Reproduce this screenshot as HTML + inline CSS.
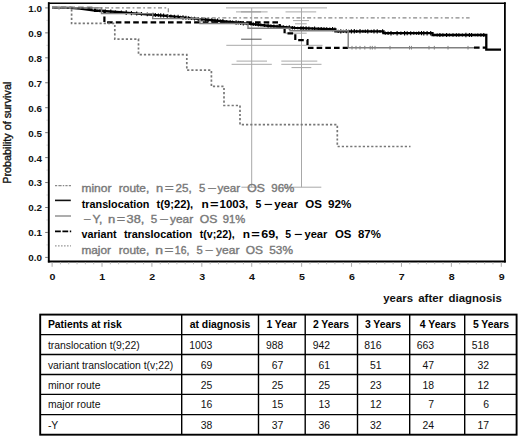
<!DOCTYPE html>
<html><head><meta charset="utf-8"><style>
html,body{margin:0;padding:0;background:#fff;width:520px;height:438px;overflow:hidden}
svg{display:block}
text{font-family:"Liberation Sans", sans-serif}
.ax{font-size:9.5px;font-weight:bold;fill:#111}
.xt{font-size:10.6px;font-weight:bold;fill:#111}
.yt{font-size:10.8px;fill:#111;stroke:#111;stroke-width:0.35px}
.lg{font-size:10.6px}
.lg.g{fill:#787878;stroke:#787878;stroke-width:0.35px}
.lg.b{fill:#000;font-weight:bold}
.th{font-size:10px;font-weight:bold;fill:#000}
.td{font-size:10px;fill:#111}
</style></head><body>
<svg width="520" height="438" viewBox="0 0 520 438">
<g stroke="#000" stroke-linecap="square">
<line x1="48.8" y1="3.2" x2="504.9" y2="3.2" stroke-width="1.6"/>
<line x1="504.9" y1="3.2" x2="504.9" y2="261.5" stroke-width="1.8"/>
<line x1="48.8" y1="261.5" x2="504.9" y2="261.5" stroke-width="1.8"/>
<line x1="48.8" y1="3.2" x2="48.8" y2="261.5" stroke-width="1.9"/>
</g>
<line x1="45.2" y1="257.40" x2="48" y2="257.40" stroke="#777" stroke-width="1"/>
<text transform="translate(42.0,261.30) scale(1.04,1)" text-anchor="end" class="ax">0.0</text>
<line x1="45.2" y1="232.45" x2="48" y2="232.45" stroke="#777" stroke-width="1"/>
<text transform="translate(42.0,236.35) scale(1.04,1)" text-anchor="end" class="ax">0.1</text>
<line x1="45.2" y1="207.50" x2="48" y2="207.50" stroke="#777" stroke-width="1"/>
<text transform="translate(42.0,211.40) scale(1.04,1)" text-anchor="end" class="ax">0.2</text>
<line x1="45.2" y1="182.55" x2="48" y2="182.55" stroke="#777" stroke-width="1"/>
<text transform="translate(42.0,186.45) scale(1.04,1)" text-anchor="end" class="ax">0.3</text>
<line x1="45.2" y1="157.60" x2="48" y2="157.60" stroke="#777" stroke-width="1"/>
<text transform="translate(42.0,161.50) scale(1.04,1)" text-anchor="end" class="ax">0.4</text>
<line x1="45.2" y1="132.65" x2="48" y2="132.65" stroke="#777" stroke-width="1"/>
<text transform="translate(42.0,136.55) scale(1.04,1)" text-anchor="end" class="ax">0.5</text>
<line x1="45.2" y1="107.70" x2="48" y2="107.70" stroke="#777" stroke-width="1"/>
<text transform="translate(42.0,111.60) scale(1.04,1)" text-anchor="end" class="ax">0.6</text>
<line x1="45.2" y1="82.75" x2="48" y2="82.75" stroke="#777" stroke-width="1"/>
<text transform="translate(42.0,86.65) scale(1.04,1)" text-anchor="end" class="ax">0.7</text>
<line x1="45.2" y1="57.80" x2="48" y2="57.80" stroke="#777" stroke-width="1"/>
<text transform="translate(42.0,61.70) scale(1.04,1)" text-anchor="end" class="ax">0.8</text>
<line x1="45.2" y1="32.85" x2="48" y2="32.85" stroke="#777" stroke-width="1"/>
<text transform="translate(42.0,36.75) scale(1.04,1)" text-anchor="end" class="ax">0.9</text>
<line x1="45.2" y1="7.90" x2="48" y2="7.90" stroke="#777" stroke-width="1"/>
<text transform="translate(42.0,11.80) scale(1.04,1)" text-anchor="end" class="ax">1.0</text>
<line x1="46.6" y1="244.92" x2="48" y2="244.92" stroke="#bbb" stroke-width="1"/>
<line x1="46.6" y1="219.97" x2="48" y2="219.97" stroke="#bbb" stroke-width="1"/>
<line x1="46.6" y1="195.03" x2="48" y2="195.03" stroke="#bbb" stroke-width="1"/>
<line x1="46.6" y1="170.08" x2="48" y2="170.08" stroke="#bbb" stroke-width="1"/>
<line x1="46.6" y1="145.13" x2="48" y2="145.13" stroke="#bbb" stroke-width="1"/>
<line x1="46.6" y1="120.17" x2="48" y2="120.17" stroke="#bbb" stroke-width="1"/>
<line x1="46.6" y1="95.22" x2="48" y2="95.22" stroke="#bbb" stroke-width="1"/>
<line x1="46.6" y1="70.28" x2="48" y2="70.28" stroke="#bbb" stroke-width="1"/>
<line x1="46.6" y1="45.32" x2="48" y2="45.32" stroke="#bbb" stroke-width="1"/>
<line x1="46.6" y1="20.37" x2="48" y2="20.37" stroke="#bbb" stroke-width="1"/>
<line x1="52.10" y1="262.4" x2="52.10" y2="266.8" stroke="#aaa" stroke-width="1"/>
<text transform="translate(52.40,279.6) scale(1.12,1)" text-anchor="middle" class="ax">0</text>
<line x1="102.01" y1="262.4" x2="102.01" y2="266.8" stroke="#aaa" stroke-width="1"/>
<text transform="translate(102.31,279.6) scale(1.12,1)" text-anchor="middle" class="ax">1</text>
<line x1="151.92" y1="262.4" x2="151.92" y2="266.8" stroke="#aaa" stroke-width="1"/>
<text transform="translate(152.22,279.6) scale(1.12,1)" text-anchor="middle" class="ax">2</text>
<line x1="201.83" y1="262.4" x2="201.83" y2="266.8" stroke="#aaa" stroke-width="1"/>
<text transform="translate(202.13,279.6) scale(1.12,1)" text-anchor="middle" class="ax">3</text>
<line x1="251.74" y1="262.4" x2="251.74" y2="266.8" stroke="#aaa" stroke-width="1"/>
<text transform="translate(252.04,279.6) scale(1.12,1)" text-anchor="middle" class="ax">4</text>
<line x1="301.65" y1="262.4" x2="301.65" y2="266.8" stroke="#aaa" stroke-width="1"/>
<text transform="translate(301.95,279.6) scale(1.12,1)" text-anchor="middle" class="ax">5</text>
<line x1="351.56" y1="262.4" x2="351.56" y2="266.8" stroke="#aaa" stroke-width="1"/>
<text transform="translate(351.86,279.6) scale(1.12,1)" text-anchor="middle" class="ax">6</text>
<line x1="401.47" y1="262.4" x2="401.47" y2="266.8" stroke="#aaa" stroke-width="1"/>
<text transform="translate(401.77,279.6) scale(1.12,1)" text-anchor="middle" class="ax">7</text>
<line x1="451.38" y1="262.4" x2="451.38" y2="266.8" stroke="#aaa" stroke-width="1"/>
<text transform="translate(451.68,279.6) scale(1.12,1)" text-anchor="middle" class="ax">8</text>
<line x1="501.29" y1="262.4" x2="501.29" y2="266.8" stroke="#aaa" stroke-width="1"/>
<text transform="translate(501.59,279.6) scale(1.12,1)" text-anchor="middle" class="ax">9</text>
<line x1="60.42" y1="262.4" x2="60.42" y2="264.3" stroke="#bbb" stroke-width="1"/>
<line x1="68.74" y1="262.4" x2="68.74" y2="264.3" stroke="#bbb" stroke-width="1"/>
<line x1="77.06" y1="262.4" x2="77.06" y2="264.3" stroke="#bbb" stroke-width="1"/>
<line x1="85.37" y1="262.4" x2="85.37" y2="264.3" stroke="#bbb" stroke-width="1"/>
<line x1="93.69" y1="262.4" x2="93.69" y2="264.3" stroke="#bbb" stroke-width="1"/>
<line x1="110.33" y1="262.4" x2="110.33" y2="264.3" stroke="#bbb" stroke-width="1"/>
<line x1="118.65" y1="262.4" x2="118.65" y2="264.3" stroke="#bbb" stroke-width="1"/>
<line x1="126.97" y1="262.4" x2="126.97" y2="264.3" stroke="#bbb" stroke-width="1"/>
<line x1="135.28" y1="262.4" x2="135.28" y2="264.3" stroke="#bbb" stroke-width="1"/>
<line x1="143.60" y1="262.4" x2="143.60" y2="264.3" stroke="#bbb" stroke-width="1"/>
<line x1="160.24" y1="262.4" x2="160.24" y2="264.3" stroke="#bbb" stroke-width="1"/>
<line x1="168.56" y1="262.4" x2="168.56" y2="264.3" stroke="#bbb" stroke-width="1"/>
<line x1="176.88" y1="262.4" x2="176.88" y2="264.3" stroke="#bbb" stroke-width="1"/>
<line x1="185.19" y1="262.4" x2="185.19" y2="264.3" stroke="#bbb" stroke-width="1"/>
<line x1="193.51" y1="262.4" x2="193.51" y2="264.3" stroke="#bbb" stroke-width="1"/>
<line x1="210.15" y1="262.4" x2="210.15" y2="264.3" stroke="#bbb" stroke-width="1"/>
<line x1="218.47" y1="262.4" x2="218.47" y2="264.3" stroke="#bbb" stroke-width="1"/>
<line x1="226.78" y1="262.4" x2="226.78" y2="264.3" stroke="#bbb" stroke-width="1"/>
<line x1="235.10" y1="262.4" x2="235.10" y2="264.3" stroke="#bbb" stroke-width="1"/>
<line x1="243.42" y1="262.4" x2="243.42" y2="264.3" stroke="#bbb" stroke-width="1"/>
<line x1="260.06" y1="262.4" x2="260.06" y2="264.3" stroke="#bbb" stroke-width="1"/>
<line x1="268.38" y1="262.4" x2="268.38" y2="264.3" stroke="#bbb" stroke-width="1"/>
<line x1="276.69" y1="262.4" x2="276.69" y2="264.3" stroke="#bbb" stroke-width="1"/>
<line x1="285.01" y1="262.4" x2="285.01" y2="264.3" stroke="#bbb" stroke-width="1"/>
<line x1="293.33" y1="262.4" x2="293.33" y2="264.3" stroke="#bbb" stroke-width="1"/>
<line x1="309.97" y1="262.4" x2="309.97" y2="264.3" stroke="#bbb" stroke-width="1"/>
<line x1="318.29" y1="262.4" x2="318.29" y2="264.3" stroke="#bbb" stroke-width="1"/>
<line x1="326.61" y1="262.4" x2="326.61" y2="264.3" stroke="#bbb" stroke-width="1"/>
<line x1="334.92" y1="262.4" x2="334.92" y2="264.3" stroke="#bbb" stroke-width="1"/>
<line x1="343.24" y1="262.4" x2="343.24" y2="264.3" stroke="#bbb" stroke-width="1"/>
<line x1="359.88" y1="262.4" x2="359.88" y2="264.3" stroke="#bbb" stroke-width="1"/>
<line x1="368.20" y1="262.4" x2="368.20" y2="264.3" stroke="#bbb" stroke-width="1"/>
<line x1="376.51" y1="262.4" x2="376.51" y2="264.3" stroke="#bbb" stroke-width="1"/>
<line x1="384.83" y1="262.4" x2="384.83" y2="264.3" stroke="#bbb" stroke-width="1"/>
<line x1="393.15" y1="262.4" x2="393.15" y2="264.3" stroke="#bbb" stroke-width="1"/>
<line x1="409.79" y1="262.4" x2="409.79" y2="264.3" stroke="#bbb" stroke-width="1"/>
<line x1="418.11" y1="262.4" x2="418.11" y2="264.3" stroke="#bbb" stroke-width="1"/>
<line x1="426.43" y1="262.4" x2="426.43" y2="264.3" stroke="#bbb" stroke-width="1"/>
<line x1="434.74" y1="262.4" x2="434.74" y2="264.3" stroke="#bbb" stroke-width="1"/>
<line x1="443.06" y1="262.4" x2="443.06" y2="264.3" stroke="#bbb" stroke-width="1"/>
<line x1="459.70" y1="262.4" x2="459.70" y2="264.3" stroke="#bbb" stroke-width="1"/>
<line x1="468.02" y1="262.4" x2="468.02" y2="264.3" stroke="#bbb" stroke-width="1"/>
<line x1="476.33" y1="262.4" x2="476.33" y2="264.3" stroke="#bbb" stroke-width="1"/>
<line x1="484.65" y1="262.4" x2="484.65" y2="264.3" stroke="#bbb" stroke-width="1"/>
<line x1="492.97" y1="262.4" x2="492.97" y2="264.3" stroke="#bbb" stroke-width="1"/>
<text transform="translate(11.3,183.7) rotate(-90)" class="yt">Probability of survival</text>
<g stroke="#a8a8a8" stroke-width="1" fill="none">
<line x1="251.7" y1="7.9" x2="251.7" y2="187.2"/>
<line x1="301.5" y1="7.9" x2="301.5" y2="187.2"/>
<line x1="226" y1="7.9" x2="327" y2="7.9"/>
<line x1="236" y1="11.9" x2="267.6" y2="11.9"/>
<line x1="285.5" y1="11.9" x2="316.2" y2="11.9"/>
<line x1="293" y1="20.6" x2="309" y2="20.6"/>
<line x1="295" y1="23.8" x2="306.7" y2="23.8"/>
<line x1="285.5" y1="33.2" x2="306.7" y2="33.2"/>
<line x1="226.3" y1="45.3" x2="322.5" y2="45.3"/>
<line x1="236.5" y1="61.1" x2="267" y2="61.1"/>
<line x1="281.3" y1="61.1" x2="317.3" y2="61.1"/>
<line x1="231.6" y1="64.3" x2="271.8" y2="64.3"/>
<line x1="281.3" y1="64.3" x2="321.5" y2="64.3"/>
<line x1="291.5" y1="67.6" x2="311.3" y2="67.6"/>
<line x1="241.4" y1="187.2" x2="261.6" y2="187.2"/>
<line x1="282" y1="187.2" x2="321.3" y2="187.2"/>
</g>
<line x1="241.1" y1="39.2" x2="261.6" y2="39.2" stroke="#555" stroke-width="1"/>
<line x1="241" y1="11.9" x2="261" y2="11.9" stroke="#999" stroke-width="1"/>
<polyline points="52.0,7.9 70.0,7.9 80.0,8.6 93.0,10.3 110.0,11.5 120.0,12.1 140.0,13.8 170.0,16.1 200.0,19.2 215.0,20.5 250.0,23.8 270.0,26.0 295.0,27.9 335.4,29.3 335.4,31.3 383.5,31.3 383.5,33.2 432.5,33.2 432.5,35.0 486.3,35.0 486.3,49.7 501.0,49.7" fill="none" stroke="#000" stroke-width="2.3"/>
<path d="M100.0 9.3V12.3M105.4 9.5V12.8M110.8 9.6V13.5M115.4 10.5V13.1M121.3 10.6V13.8M126.2 10.3V14.9M131.4 10.9V15.2M136.7 11.6V15.5M141.4 12.0V15.8M147.3 12.5V16.2M153.0 12.8V16.8M155.3 12.9V17.0M158.4 13.6V16.8M160.7 13.2V17.6M163.6 13.6V17.6M167.2 13.9V17.9M170.9 14.5V17.9M174.4 14.8V18.3M178.1 14.8V19.1M180.5 15.7V18.6M183.0 15.2V19.7M185.9 15.8V19.7M188.6 16.2V19.8M191.4 16.7V20.0M194.5 16.8V20.5M198.2 17.0V21.0M201.9 17.2V21.5M205.7 17.7V21.7M208.1 17.7V22.1M211.9 18.0V22.4M215.0 18.5V22.5M217.5 18.6V22.9M220.6 19.4V22.6M222.9 19.1V23.4M226.7 20.2V23.0M230.2 20.2V23.6M232.6 20.6V23.8M236.1 20.3V24.7M238.3 20.8V24.6M240.6 20.9V24.9M243.3 21.0V25.4M247.1 21.7V25.3M250.9 22.3V25.5M253.2 22.3V26.1M255.5 22.9V25.9M258.3 22.8V26.6M260.8 23.6V26.3M264.4 23.8V27.0M268.1 23.6V28.0M270.9 24.3V27.8M273.9 24.4V28.2M277.1 24.7V28.4M280.3 24.5V29.0M283.3 25.3V28.7M286.6 25.7V28.8M289.3 25.2V29.7M292.4 25.9V29.5M294.6 26.2V29.6M297.7 26.7V29.3M300.9 26.2V30.0M303.2 26.3V30.1M306.1 26.3V30.3M308.9 26.4V30.4M312.3 27.2V29.8M314.6 26.6V30.6M318.3 27.2V30.3M321.2 26.9V30.7M324.0 27.2V30.6M326.7 27.3V30.7M329.8 27.5V30.7M332.6 27.1V31.3M334.9 27.4V31.2M338.2 29.7V32.9M340.8 29.2V33.4M343.4 29.8V32.8M346.3 29.3V33.3M348.6 29.7V32.9M351.4 29.2V33.4M354.3 29.1V33.5M356.7 29.7V32.9M360.0 29.1V33.5M362.9 29.8V32.8M365.3 29.5V33.1M367.8 29.2V33.4M371.3 29.8V32.8M374.0 29.2V33.4M377.2 29.2V33.4M380.0 29.9V32.7M382.6 29.2V33.4M385.3 31.6V34.8M388.1 31.5V34.9M391.0 31.0V35.4M393.4 31.9V34.5M397.1 31.0V35.4M400.9 31.5V34.9M404.6 31.0V35.4M407.2 31.2V35.2M410.7 31.2V35.2M413.8 31.6V34.8M416.5 31.7V34.7M418.8 31.3V35.1M421.5 31.1V35.3M423.8 31.0V35.4M427.1 31.0V35.4M430.7 31.0V35.4M433.8 33.7V36.3M437.2 33.5V36.5M439.9 33.0V37.0M442.9 33.3V36.7M446.6 33.1V36.9M449.4 33.4V36.6M453.0 33.2V36.8M456.4 33.3V36.7M458.9 33.2V36.8M462.4 33.5V36.5M465.9 32.8V37.2M469.4 32.9V37.1M471.6 33.1V36.9M475.2 33.7V36.3M477.8 33.4V36.6M480.9 33.3V36.7M483.8 32.9V37.1" stroke="#000" stroke-width="1.1" fill="none"/>
<polyline points="52.0,7.9 95.0,7.9 95.0,10.8 104.4,10.8 104.4,22.4 279.6,22.4 279.6,27.3 284.6,27.3 284.6,33.4 295.3,33.4 295.3,40.1 307.5,40.1 307.5,47.8 348.0,47.8" fill="none" stroke="#000" stroke-width="2.2" stroke-dasharray="5.6,3.1"/>
<polyline points="474,47.7 486.3,47.7" fill="none" stroke="#000" stroke-width="2.2" stroke-dasharray="5.6,3.1"/>
<polyline points="52.0,7.9 71.6,7.9 71.6,23.4 114.8,23.4 114.8,39.1 138.5,39.1 138.5,54.6 186.8,54.6 186.8,70.2 211.4,70.2 211.4,86.4 224.0,86.4 224.0,105.5 240.0,105.5 240.0,124.7 337.3,124.7 337.3,146.5 410.5,146.5" fill="none" stroke="#777" stroke-width="1.7" stroke-dasharray="2.2,2"/>
<polyline points="52.0,7.9 168.3,7.9 168.3,17.8 469.6,17.8" fill="none" stroke="#888" stroke-width="1.15" stroke-dasharray="4,2.4,1.8,2.4"/>
<polyline points="52.0,7.9 101.5,7.9 101.5,13.6 152.7,13.6 152.7,18.6 200.0,18.6 200.0,23.5 248.0,23.5 248.0,28.3 290.0,28.3 290.0,30.8 348.2,30.8 348.2,47.7 474.0,47.7" fill="none" stroke="#808080" stroke-width="1.4"/>
<line x1="352" y1="45.9" x2="352" y2="49.5" stroke="#808080" stroke-width="1"/>
<line x1="356" y1="45.9" x2="356" y2="49.5" stroke="#808080" stroke-width="1"/>
<line x1="360" y1="45.9" x2="360" y2="49.5" stroke="#808080" stroke-width="1"/>
<line x1="364.8" y1="45.9" x2="364.8" y2="49.5" stroke="#808080" stroke-width="1"/>
<line x1="370.2" y1="45.9" x2="370.2" y2="49.5" stroke="#808080" stroke-width="1"/>
<line x1="372.3" y1="45.9" x2="372.3" y2="49.5" stroke="#808080" stroke-width="1"/>
<line x1="375" y1="45.9" x2="375" y2="49.5" stroke="#808080" stroke-width="1"/>
<line x1="390" y1="45.9" x2="390" y2="49.5" stroke="#808080" stroke-width="1"/>
<line x1="409.5" y1="45.9" x2="409.5" y2="49.5" stroke="#808080" stroke-width="1"/>
<line x1="411.4" y1="45.9" x2="411.4" y2="49.5" stroke="#808080" stroke-width="1"/>
<line x1="429" y1="45.9" x2="429" y2="49.5" stroke="#808080" stroke-width="1"/>
<line x1="434.3" y1="45.9" x2="434.3" y2="49.5" stroke="#808080" stroke-width="1"/>
<line x1="448" y1="45.9" x2="448" y2="49.5" stroke="#808080" stroke-width="1"/>
<line x1="468" y1="45.9" x2="468" y2="49.5" stroke="#808080" stroke-width="1"/>
<line x1="59" y1="5.8" x2="59" y2="9.8" stroke="#999" stroke-width="1"/>
<text transform="translate(81.39,192.3) scale(1.134,1)" class="lg g">minor</text>
<text transform="translate(118.80,192.3) scale(1.124,1)" class="lg g">route,</text>
<text transform="translate(155.94,192.3) scale(1.211,1)" class="lg g">n</text>
<text transform="translate(164.68,192.3) scale(1.448,1)" class="lg g">=</text>
<text transform="translate(175.55,192.3) scale(1.099,1)" class="lg g">25,</text>
<text transform="translate(198.90,192.3) scale(1.073,1)" class="lg g">5</text>
<text transform="translate(207.28,192.3) scale(1.448,1)" class="lg g">−</text>
<text transform="translate(217.50,192.3) scale(1.098,1)" class="lg g">year</text>
<text transform="translate(247.33,192.3) scale(1.148,1)" class="lg g">OS</text>
<text transform="translate(271.26,192.3) scale(1.090,1)" class="lg g">96%</text>
<text transform="translate(81.77,207.9) scale(1.017,1)" class="lg b">translocation</text>
<text transform="translate(156.47,207.9) scale(1.059,1)" class="lg b">t(9;22),</text>
<text transform="translate(201.40,207.9) scale(1.124,1)" class="lg b">n</text>
<text transform="translate(209.98,207.9) scale(1.382,1)" class="lg b">=</text>
<text transform="translate(219.62,207.9) scale(1.081,1)" class="lg b">1003,</text>
<text transform="translate(255.53,207.9) scale(0.990,1)" class="lg b">5</text>
<text transform="translate(263.78,207.9) scale(1.395,1)" class="lg b">−</text>
<text transform="translate(274.26,207.9) scale(1.082,1)" class="lg b">year</text>
<text transform="translate(305.29,207.9) scale(1.087,1)" class="lg b">OS</text>
<text transform="translate(327.99,207.9) scale(1.101,1)" class="lg b">92%</text>
<text transform="translate(83.19,223.1) scale(1.219,1)" class="lg g">−</text>
<text transform="translate(92.62,223.1) scale(1.133,1)" class="lg g">Y,</text>
<text transform="translate(108.03,223.1) scale(1.232,1)" class="lg g">n</text>
<text transform="translate(116.72,223.1) scale(1.352,1)" class="lg g">=</text>
<text transform="translate(126.55,223.1) scale(1.207,1)" class="lg g">38,</text>
<text transform="translate(150.79,223.1) scale(1.093,1)" class="lg g">5</text>
<text transform="translate(159.18,223.1) scale(1.448,1)" class="lg g">−</text>
<text transform="translate(170.10,223.1) scale(1.117,1)" class="lg g">year</text>
<text transform="translate(199.83,223.1) scale(1.148,1)" class="lg g">OS</text>
<text transform="translate(222.67,223.1) scale(1.060,1)" class="lg g">91%</text>
<text transform="translate(81.50,238.4) scale(1.014,1)" class="lg b">variant</text>
<text transform="translate(123.97,238.4) scale(1.027,1)" class="lg b">translocation</text>
<text transform="translate(199.77,238.4) scale(1.006,1)" class="lg b">t(v;22),</text>
<text transform="translate(242.70,238.4) scale(1.124,1)" class="lg b">n</text>
<text transform="translate(251.28,238.4) scale(1.382,1)" class="lg b">=</text>
<text transform="translate(261.16,238.4) scale(1.185,1)" class="lg b">69,</text>
<text transform="translate(285.23,238.4) scale(0.990,1)" class="lg b">5</text>
<text transform="translate(293.90,238.4) scale(1.321,1)" class="lg b">−</text>
<text transform="translate(304.47,238.4) scale(1.050,1)" class="lg b">year</text>
<text transform="translate(335.00,238.4) scale(1.074,1)" class="lg b">OS</text>
<text transform="translate(357.93,238.4) scale(1.080,1)" class="lg b">87%</text>
<text transform="translate(81.40,253.6) scale(1.118,1)" class="lg g">major</text>
<text transform="translate(118.80,253.6) scale(1.124,1)" class="lg g">route,</text>
<text transform="translate(155.28,253.6) scale(1.319,1)" class="lg g">n</text>
<text transform="translate(164.48,253.6) scale(1.448,1)" class="lg g">=</text>
<text transform="translate(174.86,253.6) scale(0.983,1)" class="lg g">16,</text>
<text transform="translate(196.60,253.6) scale(1.054,1)" class="lg g">5</text>
<text transform="translate(204.83,253.6) scale(1.333,1)" class="lg g">−</text>
<text transform="translate(216.10,253.6) scale(1.132,1)" class="lg g">year</text>
<text transform="translate(245.84,253.6) scale(1.127,1)" class="lg g">OS</text>
<text transform="translate(269.28,253.6) scale(1.117,1)" class="lg g">53%</text>
<text transform="translate(383.27,301.8) scale(1.076,1)" class="xt">years</text>
<text transform="translate(418.13,301.8) scale(1.092,1)" class="xt">after</text>
<text transform="translate(448.50,301.8) scale(1.079,1)" class="xt">diagnosis</text>
<line x1="55" y1="185.6" x2="71" y2="185.6" stroke="#8a8a8a" stroke-width="1.1" stroke-dasharray="2.2,1.2,3.2,1.2,1.4,1.2"/>
<line x1="55" y1="200.4" x2="70.8" y2="200.4" stroke="#111" stroke-width="1.6"/>
<line x1="55" y1="216" x2="71" y2="216" stroke="#8a8a8a" stroke-width="1.4"/>
<line x1="55" y1="231.4" x2="71.2" y2="231.4" stroke="#000" stroke-width="1.6" stroke-dasharray="5.8,1.6,5.8,1.6,1.4,5"/>
<line x1="55" y1="245.9" x2="71" y2="245.9" stroke="#999" stroke-width="1.1" stroke-dasharray="1.6,1.4"/>
<g stroke="#000" fill="none">
<rect x="40.2" y="314.6" width="476.4" height="120.1" stroke-width="1.9"/>
<line x1="181.7" y1="314.6" x2="181.7" y2="434.7" stroke-width="1.4"/>
<line x1="258.5" y1="314.6" x2="258.5" y2="434.7" stroke-width="1.4"/>
<line x1="305.2" y1="314.6" x2="305.2" y2="434.7" stroke-width="1.4"/>
<line x1="357.5" y1="314.6" x2="357.5" y2="434.7" stroke-width="1.4"/>
<line x1="409.7" y1="314.6" x2="409.7" y2="434.7" stroke-width="1.4"/>
<line x1="464.7" y1="314.6" x2="464.7" y2="434.7" stroke-width="1.4"/>
<line x1="40.2" y1="334.6" x2="516.6" y2="334.6" stroke-width="1.4"/>
<line x1="40.2" y1="354.5" x2="516.6" y2="354.5" stroke-width="1.4"/>
<line x1="40.2" y1="374.5" x2="516.6" y2="374.5" stroke-width="1.4"/>
<line x1="40.2" y1="394.4" x2="516.6" y2="394.4" stroke-width="1.4"/>
<line x1="40.2" y1="414.6" x2="516.6" y2="414.6" stroke-width="1.4"/>
</g>
<text transform="translate(47.9,328.2) scale(1.04,1)" class="th">Patients at risk</text>
<text transform="translate(189.7,328.2) scale(1.04,1)" class="th">at diagnosis</text>
<text transform="translate(266.4,328.2) scale(1.04,1)" class="th">1 Year</text>
<text transform="translate(312.9,328.2) scale(1.04,1)" class="th">2 Years</text>
<text transform="translate(364.9,328.2) scale(1.04,1)" class="th">3 Years</text>
<text transform="translate(419.8,328.2) scale(1.04,1)" class="th">4 Years</text>
<text transform="translate(472.9,328.2) scale(1.04,1)" class="th">5 Years</text>
<text transform="translate(47.9,348.6) scale(1.04,1)" class="td">translocation t(9;22)</text>
<text transform="translate(212.4,348.6) scale(1.04,1)" class="td" text-anchor="end">1003</text>
<text transform="translate(283.3,348.6) scale(1.04,1)" class="td" text-anchor="end">988</text>
<text transform="translate(330.0,348.6) scale(1.04,1)" class="td" text-anchor="end">942</text>
<text transform="translate(381.6,348.6) scale(1.04,1)" class="td" text-anchor="end">816</text>
<text transform="translate(434.0,348.6) scale(1.04,1)" class="td" text-anchor="end">663</text>
<text transform="translate(489.1,348.6) scale(1.04,1)" class="td" text-anchor="end">518</text>
<text transform="translate(47.9,368.5) scale(1.04,1)" class="td">variant translocation t(v;22)</text>
<text transform="translate(212.4,368.5) scale(1.04,1)" class="td" text-anchor="end">69</text>
<text transform="translate(283.3,368.5) scale(1.04,1)" class="td" text-anchor="end">67</text>
<text transform="translate(330.0,368.5) scale(1.04,1)" class="td" text-anchor="end">61</text>
<text transform="translate(381.6,368.5) scale(1.04,1)" class="td" text-anchor="end">51</text>
<text transform="translate(434.0,368.5) scale(1.04,1)" class="td" text-anchor="end">47</text>
<text transform="translate(489.1,368.5) scale(1.04,1)" class="td" text-anchor="end">32</text>
<text transform="translate(47.9,388.5) scale(1.04,1)" class="td">minor route</text>
<text transform="translate(212.4,388.5) scale(1.04,1)" class="td" text-anchor="end">25</text>
<text transform="translate(283.3,388.5) scale(1.04,1)" class="td" text-anchor="end">25</text>
<text transform="translate(330.0,388.5) scale(1.04,1)" class="td" text-anchor="end">25</text>
<text transform="translate(381.6,388.5) scale(1.04,1)" class="td" text-anchor="end">23</text>
<text transform="translate(434.0,388.5) scale(1.04,1)" class="td" text-anchor="end">18</text>
<text transform="translate(489.1,388.5) scale(1.04,1)" class="td" text-anchor="end">12</text>
<text transform="translate(47.9,408.4) scale(1.04,1)" class="td">major route</text>
<text transform="translate(212.4,408.4) scale(1.04,1)" class="td" text-anchor="end">16</text>
<text transform="translate(283.3,408.4) scale(1.04,1)" class="td" text-anchor="end">15</text>
<text transform="translate(330.0,408.4) scale(1.04,1)" class="td" text-anchor="end">13</text>
<text transform="translate(381.6,408.4) scale(1.04,1)" class="td" text-anchor="end">12</text>
<text transform="translate(434.0,408.4) scale(1.04,1)" class="td" text-anchor="end">7</text>
<text transform="translate(489.1,408.4) scale(1.04,1)" class="td" text-anchor="end">6</text>
<text transform="translate(47.9,428.6) scale(1.04,1)" class="td">-Y</text>
<text transform="translate(212.4,428.6) scale(1.04,1)" class="td" text-anchor="end">38</text>
<text transform="translate(283.3,428.6) scale(1.04,1)" class="td" text-anchor="end">37</text>
<text transform="translate(330.0,428.6) scale(1.04,1)" class="td" text-anchor="end">36</text>
<text transform="translate(381.6,428.6) scale(1.04,1)" class="td" text-anchor="end">32</text>
<text transform="translate(434.0,428.6) scale(1.04,1)" class="td" text-anchor="end">24</text>
<text transform="translate(489.1,428.6) scale(1.04,1)" class="td" text-anchor="end">17</text>
</svg>
</body></html>
